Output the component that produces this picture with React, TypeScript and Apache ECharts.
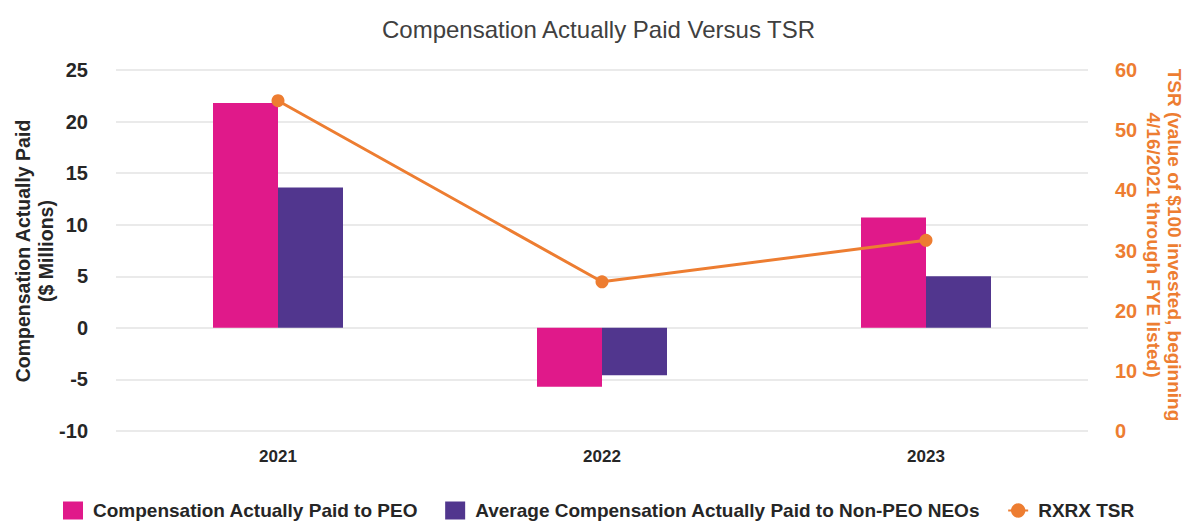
import React, { useEffect, useRef } from "react";
import * as echarts from "echarts";

const years = ["2021", "2022", "2023"];
const peoCap = [21.8, -5.7, 10.7];
const nonPeoCap = [13.6, -4.6, 5.0];
const tsr = [54.9, 24.8, 31.7];

const FONT = "'Liberation Sans', Arial, sans-serif";
const PINK = "#E0198A";
const PURPLE = "#51368E";
const ORANGE = "#ED7D31";
const DARK = "#262626";

export default function App() {
  const ref = useRef<HTMLDivElement>(null);
  useEffect(() => {
    document.body.style.margin = "0";
    const chart = echarts.init(ref.current!, null, { renderer: "svg" });
    chart.setOption({
      animation: false,
      textStyle: { fontFamily: FONT },
      title: {
        text: "Compensation Actually Paid Versus TSR",
        left: 377,
        top: 12,
        textStyle: { fontFamily: FONT, fontSize: 24, fontWeight: "normal", color: "#404040" },
      },
      legend: {
        top: 496,
        left: 58,
        itemGap: 27,
        itemWidth: 20,
        itemHeight: 18,
        textStyle: { fontFamily: FONT, fontSize: 19, fontWeight: "bold", color: DARK, padding: [0, 0, 0, 5] },
        data: [
          { name: "Compensation Actually Paid to PEO", icon: "rect" },
          { name: "Average Compensation Actually Paid to Non-PEO NEOs", icon: "rect" },
          { name: "RXRX TSR" },
        ],
      },
      grid: { left: 116, right: 101, top: 70, bottom: 91 },
      graphic: [
        {
          type: "text",
          x: 34,
          y: 251,
          rotation: Math.PI / 2,
          style: {
            text: "Compensation Actually Paid\n($ Millions)",
            align: "center",
            verticalAlign: "middle",
            font: `bold 19.5px ${FONT}`,
            lineHeight: 23,
            fill: DARK,
          },
        },
        {
          type: "text",
          x: 1164,
          y: 245,
          rotation: -Math.PI / 2,
          style: {
            text: "TSR (value of $100 invested, beginning\n4/16/2021 through FYE listed)",
            align: "center",
            verticalAlign: "middle",
            font: `bold 19px ${FONT}`,
            lineHeight: 21,
            fill: ORANGE,
          },
        },
      ],
      xAxis: {
        type: "category",
        data: years,
        axisLine: { show: false },
        axisTick: { show: false },
        axisLabel: { fontFamily: FONT, fontSize: 17, fontWeight: "bold", color: DARK, margin: 17 },
      },
      yAxis: [
        {
          type: "value",
          min: -10,
          max: 25,
          interval: 5,
          axisLabel: { fontFamily: FONT, fontSize: 20, fontWeight: "bold", color: DARK, margin: 28 },
          splitLine: { lineStyle: { color: "#e3e3e3", width: 1.5 } },
          axisLine: { show: false },
          axisTick: { show: false },
        },
        {
          type: "value",
          min: 0,
          max: 60,
          interval: 10,
          position: "right",
          axisLabel: { fontFamily: FONT, fontSize: 20, fontWeight: "bold", color: ORANGE, margin: 27 },
          splitLine: { show: false },
          axisLine: { show: false },
          axisTick: { show: false },
        },
      ],
      series: [
        {
          name: "Compensation Actually Paid to PEO",
          type: "bar",
          data: peoCap,
          barWidth: 65,
          barGap: "0%",
          itemStyle: { color: PINK },
        },
        {
          name: "Average Compensation Actually Paid to Non-PEO NEOs",
          type: "bar",
          data: nonPeoCap,
          barWidth: 65,
          barGap: "0%",
          itemStyle: { color: PURPLE },
        },
        {
          name: "RXRX TSR",
          type: "line",
          yAxisIndex: 1,
          data: tsr,
          symbol: "circle",
          symbolSize: 13,
          lineStyle: { color: ORANGE, width: 3 },
          itemStyle: { color: ORANGE },
        },
      ],
    });
    return () => chart.dispose();
  }, []);
  return <div ref={ref} style={{ width: 1189, height: 522 }} />;
}
